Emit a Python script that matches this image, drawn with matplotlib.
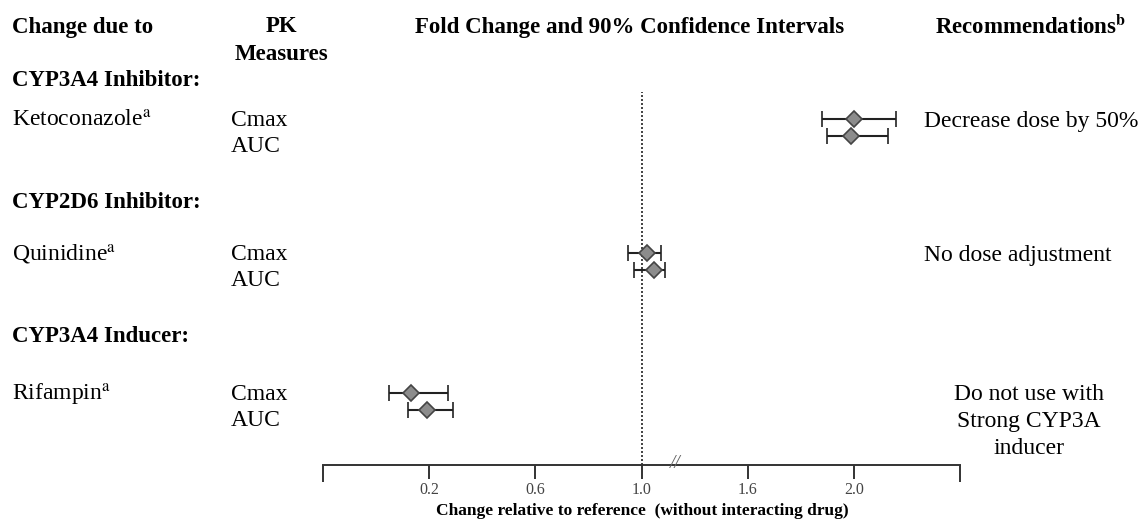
import matplotlib.pyplot as plt
import numpy as np

plt.rcParams['font.family'] = ['Liberation Serif', 'DejaVu Serif']
plt.rcParams['mathtext.fontset'] = 'stix'

# Data
groups = ['CYP3A4 Inhibitor:', 'CYP2D6 Inhibitor:', 'CYP3A4 Inducer:']
drugs = ['Ketoconazole', 'Quinidine', 'Rifampin']
cmax_est = [2.00, 1.03, 0.13]
cmax_lo = [1.88, 0.95, 0.05]
cmax_hi = [2.16, 1.11, 0.27]
auc_est = [1.99, 1.07, 0.19]
auc_lo = [1.90, 0.97, 0.12]
auc_hi = [2.13, 1.13, 0.29]
recommendations = ['Decrease dose by 50%', 'No dose adjustment',
                   'Do not use with\nStrong CYP3A\ninducer']
tick_values = [0.2, 0.6, 1.0, 1.6, 2.0]
tick_labels = ['0.2', '0.6', '1.0', '1.6', '2.0']

# Broken axis: ticks equally spaced even though the steps differ
fold_pts = np.array([-0.2, 0.2, 0.6, 1.0, 1.6, 2.0, 2.4])
pos_pts = np.arange(len(fold_pts), dtype=float)

def forward(v):
    return np.interp(v, fold_pts, pos_pts)

def inverse(p):
    return np.interp(p, pos_pts, fold_pts)

W, H = 1138, 523
fig = plt.figure(figsize=(W / 100, H / 100), dpi=100)

# text layer in pixel coordinates
bg = fig.add_axes([0, 0, 1, 1])
bg.set_xlim(0, W)
bg.set_ylim(H, 0)
bg.axis('off')

# row layout (pixels)
header_y = 27
group_y = [81, 203, 337]
drug_y = [121, 255, 395]
row_gap = 26
mark_gap = 17

fs_bold = 16.5
fs_text = 17
bold = dict(fontweight='bold', fontsize=fs_bold, va='center')
bg.text(12, header_y, 'Change due to', ha='left', **bold)
bg.text(281, header_y, 'PK', ha='center', **bold)
bg.text(281, header_y + 27, 'Measures', ha='center', **bold)
bg.text(630, header_y, 'Fold Change and 90% Confidence Intervals', ha='center', **bold)
bg.text(1031, header_y, r'Recommendations$^{\mathbf{b}}$', ha='center', **bold)

for i in range(len(drugs)):
    bg.text(12, group_y[i], groups[i], ha='left', **bold)
    bg.text(12, drug_y[i], drugs[i] + r'$^{\mathrm{a}}$', ha='left', va='center', fontsize=fs_text)
    bg.text(231, drug_y[i], 'Cmax', ha='left', va='center', fontsize=fs_text)
    bg.text(231, drug_y[i] + row_gap, 'AUC', ha='left', va='center', fontsize=fs_text)
    if '\n' in recommendations[i]:
        for k, line in enumerate(recommendations[i].split('\n')):
            bg.text(1029, drug_y[i] + k * 26.5, line, ha='center', va='center', fontsize=fs_text)
    else:
        bg.text(924, drug_y[i], recommendations[i], ha='left', va='center', fontsize=fs_text)

# forest axes, y in pixel units so rows line up with text
x0, x1, y_axis, y_top = 323, 960, 465, 92
ax = fig.add_axes([x0 / W, (H - y_axis) / H, (x1 - x0) / W, (y_axis - y_top) / H])
ax.patch.set_alpha(0)
ax.set_xscale('function', functions=(forward, inverse))
ax.set_xlim(fold_pts[0], fold_pts[-1])
ax.set_ylim(y_axis, y_top)

for spine in ['top', 'left', 'right']:
    ax.spines[spine].set_visible(False)
ax.spines['bottom'].set_color('#333333')
ax.spines['bottom'].set_linewidth(1.4)
ax.set_yticks([])
ax.set_xticks(tick_values)
ax.set_xticklabels(tick_labels)
ax.set_xticks([fold_pts[0], fold_pts[-1]], minor=True)
ax.tick_params(axis='x', which='major', direction='out', length=10, width=1.4,
               color='#333333', labelsize=11.5, labelcolor='#444444', pad=2)
ax.tick_params(axis='x', which='minor', direction='out', length=12.5, width=1.4,
               color='#333333')

ax.axvline(1.0, color='#222222', ls=(0, (1.2, 1.2)), lw=1.2, zorder=1)
ax.text(1.19, y_axis - 1, '//', ha='center', va='center', fontsize=14,
        color='#666666', style='italic')

cmax_y = np.array(drug_y) - 2
auc_y = cmax_y + mark_gap
for est, lo, hi, ys in [(cmax_est, cmax_lo, cmax_hi, cmax_y),
                        (auc_est, auc_lo, auc_hi, auc_y)]:
    est = np.array(est)
    err = [est - np.array(lo), np.array(hi) - est]
    ax.errorbar(est, ys, xerr=err, fmt='D', color='#222222', ecolor='#222222',
                elinewidth=1.5, capsize=5.5, capthick=1.5, markersize=8.5,
                markerfacecolor='#8c8c8c', markeredgecolor='#444444',
                markeredgewidth=1.2, zorder=3)

fig.text(642 / W, 1 - 511 / H, 'Change relative to reference  (without interacting drug)',
         ha='center', va='center', fontsize=12.5, fontweight='bold')

fig.savefig('out.png', dpi=100)
